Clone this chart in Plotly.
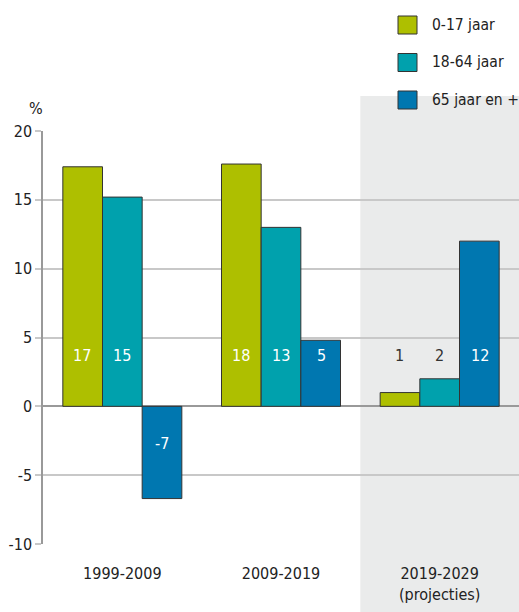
import plotly.graph_objects as go

periods = ['1999-2009', '2009-2019', '2019-2029<br>(projecties)']
series_names = ['0-17 jaar', '18-64 jaar', '65 jaar en +']
young = [17.4, 17.6, 1.0]
working = [15.2, 13.0, 2.0]
elderly = [-6.7, 4.8, 12.0]
labels_young = ['17', '18', '1']
labels_working = ['15', '13', '2']
labels_elderly = ['-7', '5', '12']
y_ticks = [-10, -5, 0, 5, 10, 15, 20]
y_ticktext = ['-10', '-5', '0', '5', '10', '15', '20']

colors = ['#aebf00', '#00a1ad', '#0077b0']
FONT = 'DejaVu Sans Condensed, Liberation Sans Narrow, sans-serif'

W, H = 519, 612
L, R, T, B = 43, 0, 131, 68
PW, PH = W - L - R, H - T - B


def px_x(p):
    return (p - L) / PW


def px_y(p):
    return (H - B - p) / PH


fig = go.Figure()
all_values = [young, working, elderly]
all_labels = [labels_young, labels_working, labels_elderly]
for name, vals, col in zip(series_names, all_values, colors):
    fig.add_trace(go.Bar(
        x=list(range(len(periods))), y=vals, name=name,
        marker=dict(color=col, line=dict(color='#333333', width=1)),
        showlegend=False, hoverinfo='skip',
    ))

# value labels, set at a fixed height in the bars
annotations = []
for i, (vals, labs) in enumerate(zip(all_values, all_labels)):
    shift = (i - 1) * 40
    for j, (v, lab) in enumerate(zip(vals, labs)):
        ly = 3.7 if v > 0 else -2.7
        inside = abs(v) > abs(ly) + 1
        annotations.append(dict(
            x=j, y=ly, xref='x', yref='y', text=lab, showarrow=False,
            xshift=shift, font=dict(size=16, color='white' if inside else '#333333', family=FONT),
        ))

# legend drawn by hand, big squares like the original
shapes = []
for k, (name, col) in enumerate(zip(series_names, colors)):
    cy = 25 + k * 37.5
    shapes.append(dict(
        type='rect', xref='paper', yref='paper',
        x0=px_x(398), x1=px_x(417), y0=px_y(cy + 9), y1=px_y(cy - 9),
        fillcolor=col, line=dict(color='#333333', width=1),
    ))
    annotations.append(dict(
        x=px_x(430), y=px_y(cy), xref='paper', yref='paper', text=name,
        showarrow=False, xanchor='left', yanchor='middle',
        font=dict(size=15.5, color='#222222', family=FONT),
    ))

# shaded projection period
shapes.append(dict(
    type='rect', xref='x', yref='paper', x0=1.5, x1=2.5,
    y0=px_y(H), y1=px_y(96), fillcolor='#eaebeb', line=dict(width=0), layer='below',
))

annotations.append(dict(
    x=px_x(27), y=px_y(97), xref='paper', yref='paper', text='%', showarrow=False,
    font=dict(size=16, color='#222222', family=FONT),
))

fig.update_layout(
    width=W, height=H,
    margin=dict(l=L, r=R, t=T, b=B),
    paper_bgcolor='white', plot_bgcolor='rgba(0,0,0,0)',
    barmode='group', bargap=0.25, bargroupgap=0,
    font=dict(family=FONT, size=16, color='#222222'),
    shapes=shapes, annotations=annotations,
)
fig.update_xaxes(
    tickmode='array', tickvals=list(range(len(periods))), ticktext=periods,
    range=[-0.5, 2.5], showgrid=False, zeroline=False, showline=False,
    ticks='', ticklabelstandoff=18,
)
fig.update_yaxes(
    range=[-10, 20], tickmode='array', tickvals=y_ticks, ticktext=y_ticktext,
    showgrid=True, gridcolor='#c8c8c8', gridwidth=1.5,
    zeroline=True, zerolinecolor='#999999', zerolinewidth=2,
    showline=True, linecolor='#999999', linewidth=1.5,
    ticks='outside', ticklen=6, tickcolor='#c8c8c8', tickwidth=1.5,
)

fig.write_html('out.html', config={'displayModeBar': False},
               post_script="document.body.style.margin='0';")
